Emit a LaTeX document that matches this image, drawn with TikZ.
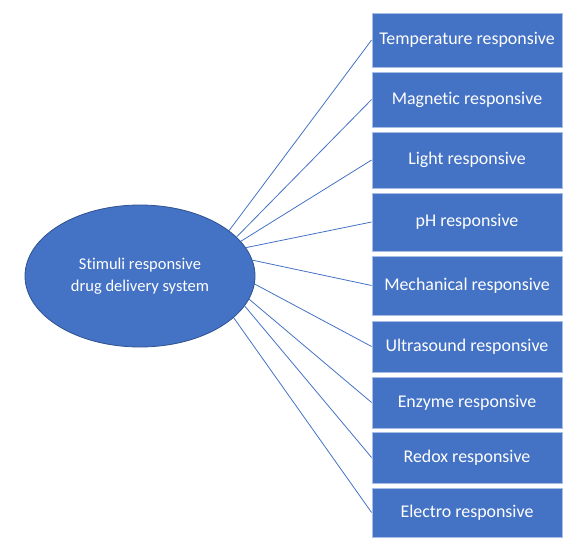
\documentclass[tikz,border=0pt]{standalone}
\usepackage{fontspec}
\setmainfont[Ligatures=CommonOff]{Carlito}
\usetikzlibrary{shapes.geometric}
\definecolor{bleuOffice}{HTML}{4472C4}
\definecolor{bleuContour}{HTML}{2F528F}
\definecolor{bleuClair}{HTML}{A9BEE6}
\begin{document}
\begin{tikzpicture}[x=1pt,y=-1pt]
			% Styles
			\tikzstyle{lien}=[-,bleuOffice,line width=0.8pt]
			\tikzstyle{centre}=[ellipse,draw=bleuContour,line width=0.8pt,fill=bleuOffice,text=white,minimum width=230pt,minimum height=142pt,inner sep=0pt,align=center,font=\fontsize{16.5}{22}\selectfont]
			\tikzstyle{boite}=[rectangle,draw=bleuClair,line width=0.8pt,fill=bleuOffice,text=white,minimum width=190pt,inner sep=0pt,font=\fontsize{17.9}{20}\selectfont]
			% Dimensions
			\def\ColonneA{140}
			\def\ColonneB{467}
			\useasboundingbox (0,0) rectangle (569,543);
			% Noeuds
			\node[centre] (S) at ({\ColonneA},276) {Stimuli responsive\\drug delivery system};
			\node[boite,minimum height=54pt] (S1) at ({\ColonneB},40) {Temperature responsive};
			\node[boite,minimum height=55pt] (S2) at ({\ColonneB},99.5) {Magnetic responsive};
			\node[boite,minimum height=56pt] (S3) at ({\ColonneB},160) {Light responsive};
			\node[boite,minimum height=58pt] (S4) at ({\ColonneB},222) {pH responsive};
			\node[boite,minimum height=59pt] (S5) at ({\ColonneB},285.5) {Mechanical responsive};
			\node[boite,minimum height=51pt] (S6) at ({\ColonneB},346.5) {Ultrasound responsive};
			\node[boite,minimum height=51pt] (S7) at ({\ColonneB},402.5) {Enzyme responsive};
			\node[boite,minimum height=51pt] (S8) at ({\ColonneB},457.5) {Redox responsive};
			\node[boite,minimum height=49pt] (S9) at ({\ColonneB},512.5) {Electro responsive};
			% Arcs
			\draw[lien] (S.27.3)--(S1.west);
			\draw[lien] (S.22.6)--(S2.west);
			\draw[lien] (S.19.4)--(S3.west);
			\draw[lien] (S.15)--(S4.west);
			\draw[lien] (S.8.6)--(S5.west);
			\draw[lien] (S.-4.5)--(S6.west);
			\draw[lien] (S.-12.8)--(S7.west);
			\draw[lien] (S.-16.5)--(S8.west);
			\draw[lien] (S.-24.8)--(S9.west);
		\end{tikzpicture}
\end{document}
